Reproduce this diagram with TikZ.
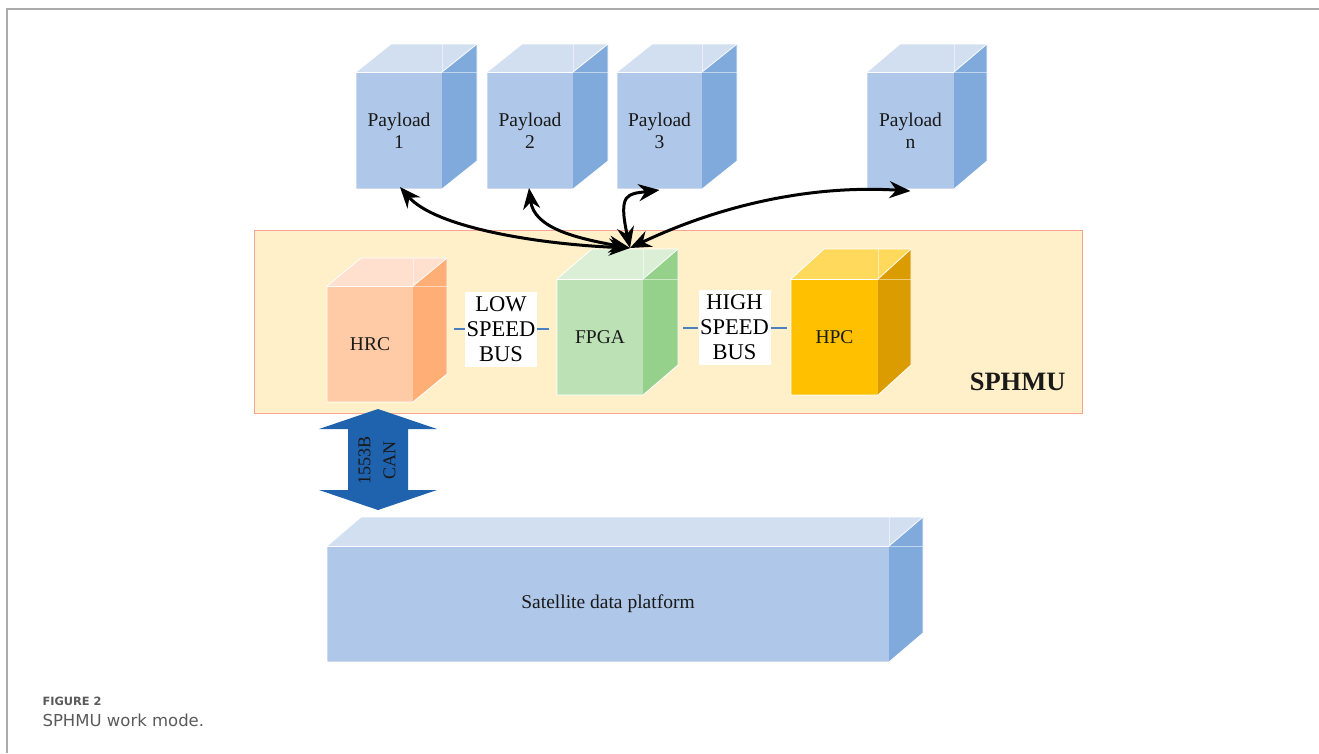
\documentclass[tikz,border=0pt]{standalone}
\usepackage{fontspec}
\setmainfont{Liberation Serif}
\newfontfamily\capfont{DejaVu Sans}
\usetikzlibrary{arrows.meta,calc}

% face colours: F = front, T = top, S = side
\definecolor{payF}{HTML}{AFC7E8}
\definecolor{payT}{HTML}{D2DFF1}
\definecolor{payS}{HTML}{80AADC}
\definecolor{hrcF}{HTML}{FFCBA6}
\definecolor{hrcT}{HTML}{FFE0CF}
\definecolor{hrcS}{HTML}{FFAE75}
\definecolor{fpgF}{HTML}{BBE1B4}
\definecolor{fpgT}{HTML}{DBEED6}
\definecolor{fpgS}{HTML}{95D18A}
\definecolor{hpcF}{HTML}{FFC000}
\definecolor{hpcT}{HTML}{FFD95C}
\definecolor{hpcS}{HTML}{DA9C00}
\definecolor{unitFill}{HTML}{FFF0CA}
\definecolor{unitLine}{HTML}{F7A58E}
\definecolor{busLine}{HTML}{4A80C0}
\definecolor{linkBlue}{HTML}{1F62AE}
\definecolor{frameGray}{HTML}{ABABAB}
\definecolor{capGray}{HTML}{5A5A5A}

\tikzset{
  face/.style={inner sep=0pt, outer sep=0pt, align=center, text=black!90,
    font=\fontsize{19.5}{22}\selectfont},
  edge/.style={draw=white, line width=0.8pt, line join=round},
  faint/.style={draw=white, line width=0.4pt, opacity=0.5},
  buslabel/.style={fill=white, inner sep=0pt, minimum width=72pt,
    minimum height=75pt, align=center, font=\fontsize{22.5}{25}\selectfont},
  busline/.style={draw=busLine, line width=1.4pt},
  link/.style={draw=black, line width=3pt,
    {Stealth[length=21pt,width=17pt]}-{Stealth[length=21pt,width=17pt]}},
}

% solid box: name, left, top, width, height, depth x, depth y, colour prefix, label
\newcommand\solidbox[9]{%
  \node[face, fill=#8F, minimum width=#4pt, minimum height=#5pt,
        anchor=north west] (#1) at (#2,#3) {#9};
  \fill[#8T] (#1.north west) -- ++(#6,-#7) -- ++(#4,0) -- (#1.north east) -- cycle;
  \fill[#8S] (#1.north east) -- ++(#6,-#7) -- ++(0,#5) -- (#1.south east) -- cycle;
  \draw[faint] (#1.north east) -- ++(#6,0);
  \draw[faint] (#1.north east) -- ++(0,-#7);
  \draw[edge] (#1.south west) -- (#1.north west) -- ++(#6,-#7) -- ++(#4,0)
              -- ++(0,#5) -- (#1.south east) -- cycle;
  \draw[edge] (#1.north east) -- ++(#6,-#7);
  \draw[edge] (#1.north west) -- (#1.north east);
}

\begin{document}
\begin{tikzpicture}[x=1pt, y=-1pt]
\useasboundingbox (0,0) rectangle (1319,753);

% page frame
\draw[frameGray, line width=1.5pt] (7,753) -- (7,9) -- (1319,9);

% payloads
\solidbox{p1}{356}{72}{86}{117}{35}{28}{pay}{Payload\\1}
\solidbox{p2}{487}{72}{86}{117}{35}{28}{pay}{Payload\\2}
\solidbox{p3}{617}{72}{85}{117}{35}{28}{pay}{Payload\\3}
\solidbox{pn}{867}{72}{87}{117}{33}{28}{pay}{Payload\\n}

% processing unit
\node[draw=unitLine, fill=unitFill, line width=1pt, inner sep=0pt,
      minimum width=828pt, minimum height=183pt, anchor=north west]
      (unit) at (254,230) {};
\node[font=\bfseries\fontsize{26.5}{30}\selectfont, anchor=east, text=black!90]
      (unitname) at (1069,382) {SPHMU};

\solidbox{hrc}{327}{286}{86}{116}{34}{28}{hrc}{HRC}
\solidbox{fpga}{557}{279}{86}{116}{35}{30}{fpg}{FPGA}
\solidbox{hpc}{791}{279}{87}{116}{33}{30}{hpc}{HPC}

% internal buses
\node[buslabel] (lsb) at (501,329) {LOW\\SPEED\\BUS};
\node[buslabel] (hsb) at (734.5,327.5) {HIGH\\SPEED\\BUS};
\draw[busline] ([xshift=-11pt]lsb.west) -- (lsb.west);
\draw[busline] (lsb.east) -- ([xshift=12pt]lsb.east);
\draw[busline] ([xshift=-15pt,yshift=-0.5pt]hsb.west) -- ([yshift=-0.5pt]hsb.west);
\draw[busline] ([yshift=-0.5pt]hsb.east) -- ([xshift=16pt,yshift=-0.5pt]hsb.east);

% payload links
\coordinate (hub) at (630,248);
\draw[link] (hub) .. controls +(-95,-4) and +(35,40) .. ([xshift=1pt,yshift=2pt]p1.south);
\draw[link] (hub) .. controls +(-55,-10) and +(5,40) .. ([xshift=-1pt,yshift=1pt]p2.south);
\draw[link] (hub) .. controls +(-12,-55) and +(-32,4) .. ([yshift=-1pt]p3.south);
\draw[link] (hub) .. controls +(95,-45) and +(-95,-6) .. ([yshift=-2pt]pn.south);

% satellite platform
\solidbox{sat}{327}{546}{562}{116}{34}{29}{pay}{Satellite data platform}

% platform bus link
\fill[linkBlue] (378,409) -- (437,429) -- (408,429) -- (408,490) -- (437,490)
  -- (378,510) -- (319,490) -- (348,490) -- (348,429) -- (319,429) -- cycle;
\node[rotate=90, align=center, text=black!90,
      font=\fontsize{18}{25}\selectfont] (canbus) at (377,460) {1553B\\CAN};

% caption
\node[anchor=base west, text=capGray, font=\capfont\bfseries\fontsize{11.4}{14}\selectfont]
      (figno) at (39,705) {FIGURE 2};
\node[anchor=base west, text=capGray, font=\capfont\fontsize{16.5}{19}\selectfont]
      (figcap) at (39,726) {SPHMU work mode.};
\end{tikzpicture}
\end{document}
